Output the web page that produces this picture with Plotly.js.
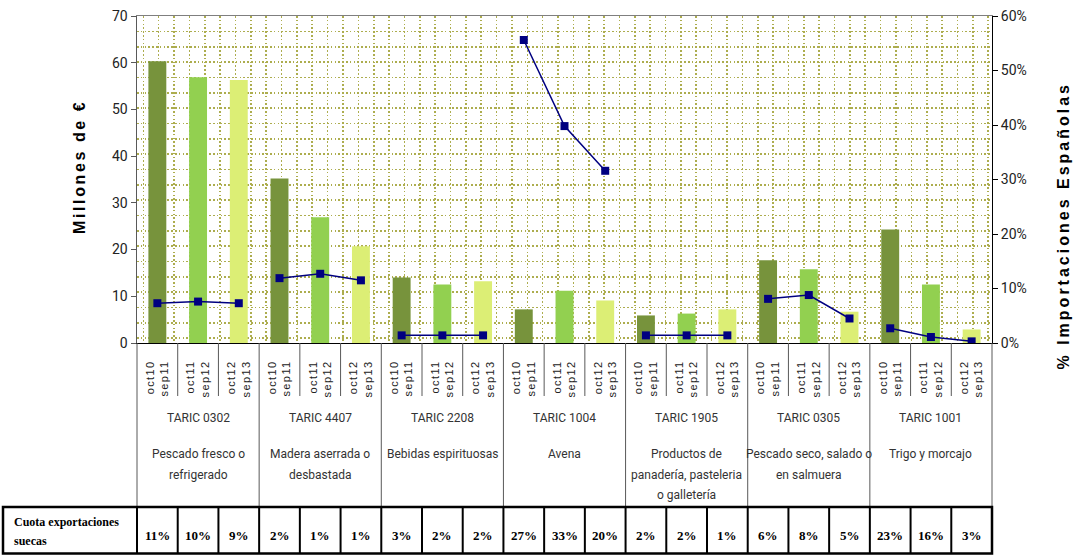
<!DOCTYPE html>
<html><head><meta charset="utf-8">
<script src="https://cdn.plot.ly/plotly-3.0.1.min.js"></script>
<style>
body{margin:0;background:#fff;}
#chart{width:1080px;height:555px;}
.xtick text{letter-spacing:1.4px;}
g.annotation[data-index="0"] text{letter-spacing:2.6px;}
g.annotation[data-index="1"] text{letter-spacing:3px;}
</style>
</head><body><div id="chart"></div>
<script>
const groups = ['TARIC 0302','TARIC 4407','TARIC 2208','TARIC 1004','TARIC 1905','TARIC 0305','TARIC 1001'];
const descriptions = ['Pescado fresco o<br>refrigerado','Madera aserrada o<br>desbastada','Bebidas espirituosas','Avena','Productos de<br>panadería, pasteleria<br>o galletería','Pescado seco, salado o<br>en salmuera','Trigo y morcajo'];
const periods = ['oct10<br>sep11','oct11<br>sep12','oct12<br>sep13'];
const millones1 = [60.3,35.2,14.0,7.2,5.9,17.7,24.3];
const millones2 = [56.9,26.9,12.5,11.2,6.3,15.8,12.5];
const millones3 = [56.3,20.7,13.2,9.1,7.2,6.7,2.9];
const importPct1 = [7.3,11.9,1.4,55.6,1.4,8.1,2.7];
const importPct2 = [7.6,12.7,1.4,39.8,1.4,8.8,1.1];
const importPct3 = [7.3,11.5,1.4,31.6,1.4,4.5,0.3];
const cuota1 = ['11%','2%','3%','27%','2%','6%','23%'];
const cuota2 = ['10%','1%','2%','33%','2%','8%','16%'];
const cuota3 = ['9%','1%','2%','20%','1%','5%','3%'];
const cuotaLabel = ['Cuota exportaciones','suecas'];
const yTitle = 'Millones de €';
const y2Title = '% Importaciones Españolas';

const barColors = ['#77933C','#92D050','#DCEE75'];
const millones = [millones1, millones2, millones3];
const importPct = [importPct1, importPct2, importPct3];
const cuota = [cuota1, cuota2, cuota3];
const nG = groups.length, nP = periods.length, nC = nG*nP;

// pixel helpers for the plot box (l=137, r=992, t=16, b=343)
const PL=137, PR=992, PT=16, PB=343;
const py = p => (PB - p)/(PB - PT);
const px = p => (p - PL)/(PR - PL);
const cx = k => k/nC; // category boundary k -> paper x

const traces = [];
traces.push({type:'scatter', x:[], y:[], xaxis:'x2', yaxis:'y3', showlegend:false, hoverinfo:'skip'});
for (let p=0;p<nP;p++){
  traces.push({
    type:'bar', x: groups.map((g,i)=>i*nP+p), y: millones[p],
    width:0.44, marker:{color:barColors[p]}, showlegend:false, hoverinfo:'y'
  });
}
for (let g=0; g<nG; g++){
  traces.push({
    type:'scatter', mode:'lines+markers', yaxis:'y2',
    x: periods.map((_,p)=>g*nP+p), y: importPct.map(a=>a[g]),
    line:{color:'#000080', width:1.5},
    marker:{symbol:'square', size:8, color:'#000080'},
    showlegend:false
  });
}

const tickvals = [], ticktext = [];
for (let g=0; g<nG; g++) for (let p=0;p<nP;p++){ tickvals.push(g*nP+p); ticktext.push(periods[p]); }

const TT = 507, TB = 553.5; // table top/bottom
const shapes = [];
for (let g=0; g<=nG; g++){
  shapes.push({type:'line', xref:'paper', yref:'paper', x0:cx(g*nP), x1:cx(g*nP), y0:0, y1:py(TT), line:{color:'#595959', width:1}});
}
for (let k=1;k<nC;k++){
  if (k%nP===0) continue;
  shapes.push({type:'line', xref:'paper', yref:'paper', x0:cx(k), x1:cx(k), y0:0, y1:py(396), line:{color:'#595959', width:1}});
}
shapes.push({type:'rect', xref:'paper', yref:'paper', x0:px(3), x1:1, y0:py(TT), y1:py(TB), line:{color:'#000', width:2.5}});
for (let k=0;k<nC;k++){
  shapes.push({type:'line', xref:'paper', yref:'paper', x0:cx(k), x1:cx(k), y0:py(TT), y1:py(TB), line:{color:'#000', width:2}});
}

const narrow = 'Roboto, "Liberation Sans", Arial, sans-serif';
const serif = '"Liberation Serif", "Times New Roman", serif';
const annotations = [];
annotations.push({xref:'paper', yref:'paper', x:px(79), y:py(167), xanchor:'center', yanchor:'middle', text:'<b>'+yTitle+'</b>', textangle:-90, showarrow:false, font:{family:'"Liberation Sans", Arial, sans-serif', size:16, color:'#000'}});
annotations.push({xref:'paper', yref:'paper', x:px(1064), y:py(226), xanchor:'center', yanchor:'middle', text:'<b>'+y2Title+'</b>', textangle:-90, showarrow:false, font:{family:'"Liberation Sans", Arial, sans-serif', size:16, color:'#000'}});
for (let g=0; g<nG; g++){
  annotations.push({xref:'paper', yref:'paper', x:cx(g*nP+1.5), y:py(418), xanchor:'center', yanchor:'middle', text:groups[g], showarrow:false, font:{family:narrow, size:12, color:'#333'}});
  descriptions[g].split('<br>').forEach((line,j)=>{
    annotations.push({xref:'paper', yref:'paper', x:cx(g*nP+1.5), y:py(454+20.5*j), xanchor:'center', yanchor:'middle', text:line, showarrow:false, font:{family:narrow, size:12, color:'#333'}});
  });
  for (let p=0;p<nP;p++){
    annotations.push({xref:'paper', yref:'paper', x:cx(g*nP+p+0.5), y:py(535), xanchor:'center', yanchor:'middle', text:'<b>'+cuota[p][g]+'</b>', showarrow:false, font:{family:serif, size:13, color:'#000'}});
  }
}
cuotaLabel.forEach((line,j)=>{
  annotations.push({xref:'paper', yref:'paper', x:px(12), xanchor:'left', yanchor:'middle', y:py(522+19*j), text:'<b>'+line+'</b>', showarrow:false, font:{family:serif, size:12, color:'#000'}});
});

const gridStyle = {showgrid:true, gridcolor:'#ADAD4E', griddash:'1.6px,2.2px', gridwidth:1.6};
const layout = {
  width:1080, height:555,
  margin:{l:PL, r:1080-PR, t:PT, b:555-PB, pad:0},
  paper_bgcolor:'#fff', plot_bgcolor:'#fff',
  barmode:'overlay', showlegend:false,
  xaxis:{range:[-0.5, nC-0.5], tickmode:'array', tickvals:tickvals, ticktext:ticktext, tickangle:-90,
    ticks:'', ticklabelstandoff:12, showgrid:false, zeroline:false, showline:true, linecolor:'#000', linewidth:1,
    tickfont:{family:'"Liberation Sans", Arial, sans-serif', size:11, color:'#222'}},
  yaxis:{range:[0,70], dtick:10, showgrid:false, zeroline:false, showline:true, linecolor:'#595959', linewidth:1.5,
    ticks:'outside', ticklen:5, tickcolor:'#595959', tickfont:{family:narrow, size:14, color:'#222'}},
  yaxis2:{overlaying:'y', side:'right', range:[0,60], dtick:10, ticksuffix:'%', showgrid:false, zeroline:false,
    showline:true, linecolor:'#000', linewidth:1, ticks:'outside', ticklen:5, tickcolor:'#000',
    tickfont:{family:narrow, size:14, color:'#222'}},
  xaxis2:Object.assign({overlaying:'x', anchor:'y3', side:'top', range:[-0.41, 55.25], dtick:1, tick0:0,
    showticklabels:false, ticks:'', zeroline:false, showline:true, linecolor:'#7F7F7F', linewidth:1.5}, gridStyle),
  yaxis3:Object.assign({overlaying:'y', anchor:'x2', range:[-0.306, 21], dtick:1, tick0:0,
    showticklabels:false, ticks:'', zeroline:false, showline:false}, gridStyle),
  shapes:shapes, annotations:annotations
};
Plotly.newPlot('chart', traces, layout, {displayModeBar:false, staticPlot:true});
</script>
</body></html>
